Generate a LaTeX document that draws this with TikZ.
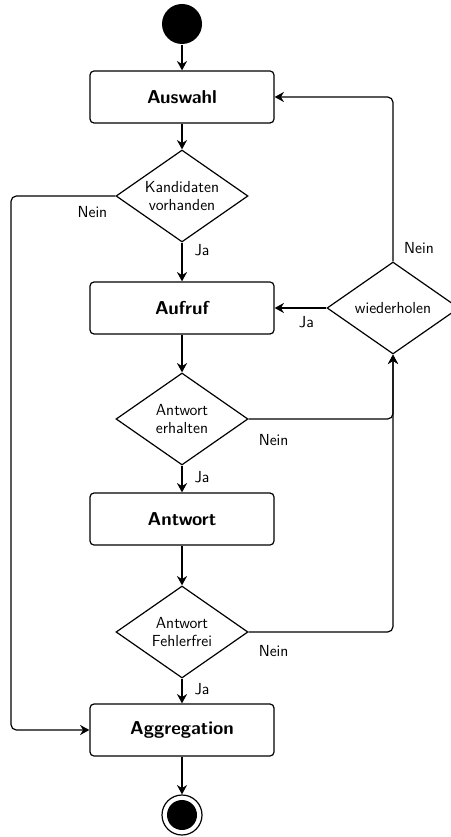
\documentclass[tikz,border=0pt]{standalone}
\usepackage{tikz}
\usetikzlibrary{
	arrows.meta,
	shapes.geometric
}

\tikzset{
	activity/.style={draw, rounded corners=3pt, minimum width=138pt, minimum height=39pt, font=\sffamily\fontsize{14}{16}\selectfont\bfseries},
	decision/.style={draw, diamond, aspect=1.45, inner sep=0pt, minimum width=99pt, minimum height=69pt, align=center, font=\sffamily\fontsize{12}{13.5}\selectfont},
	lbl/.style={inner sep=0pt, font=\sffamily\fontsize{12}{13.5}\selectfont},
	startnode/.style={circle, fill=black, minimum size=30pt, inner sep=0pt},
	endnode/.style={circle, draw, minimum size=30pt, inner sep=0pt, path picture={\fill (path picture bounding box.center) circle (11.25pt);}}
}

\begin{document}
\begin{tikzpicture}[x=0.75pt, y=-0.75pt, line width=0.9pt, >={Stealth[length=7pt,width=7.5pt]}]
	\useasboundingbox (0,0) rectangle (450,837);
	\node[startnode] (start) at (182,24) {};
	\node[activity] (ausw) at (182,97) {Auswahl};
	\node[decision] (kand) at (182,196) {Kandidaten\\vorhanden};
	\node[activity] (aufr) at (182,308) {Aufruf};
	\node[decision] (wied) at (393,308) {wiederholen};
	\node[decision] (erh) at (182,419) {Antwort\\erhalten};
	\node[activity] (antw) at (182,519) {Antwort};
	\node[decision] (fehl) at (182,632) {Antwort\\Fehlerfrei};
	\node[activity] (aggr) at (182,730) {Aggregation};
	\node[endnode] (stop) at (182,815) {};
	\coordinate (leftrail) at (11,0);
	\draw[->] (start) -- (ausw);
	\draw[->] (ausw) -- (kand);
	\draw[->] (kand) -- (aufr);
	\draw[->] (aufr) -- (erh);
	\draw[->] (erh) -- (antw);
	\draw[->] (antw) -- (fehl);
	\draw[->] (fehl) -- (aggr);
	\draw[->] (aggr) -- (stop);
	\draw[->] (wied) -- (aufr);
	\draw[->, rounded corners=4pt] (wied.north) |- (ausw.east);
	\draw[->, rounded corners=4pt] (erh.east) -| (wied.south);
	\draw[->, rounded corners=4pt] (fehl.east) -| (wied.south);
	\draw[->, rounded corners=4pt] (kand.west) -- (kand.west -| leftrail) -- (aggr.west -| leftrail) -- (aggr.west);
	\node[lbl] (nein1) at ([shift={(-23,16)}]kand.west) {Nein};
	\node[lbl] (ja1) at ([shift={(20,8)}]kand.south) {Ja};
	\node[lbl] (ja2) at ([shift={(-20,14)}]wied.west) {Ja};
	\node[lbl] (nein2) at ([shift={(26,-13)}]wied.north) {Nein};
	\node[lbl] (nein3) at ([shift={(25,21)}]erh.east) {Nein};
	\node[lbl] (ja3) at ([shift={(20,12)}]erh.south) {Ja};
	\node[lbl] (nein4) at ([shift={(25,19)}]fehl.east) {Nein};
	\node[lbl] (ja4) at ([shift={(20,11)}]fehl.south) {Ja};
\end{tikzpicture}
\end{document}
